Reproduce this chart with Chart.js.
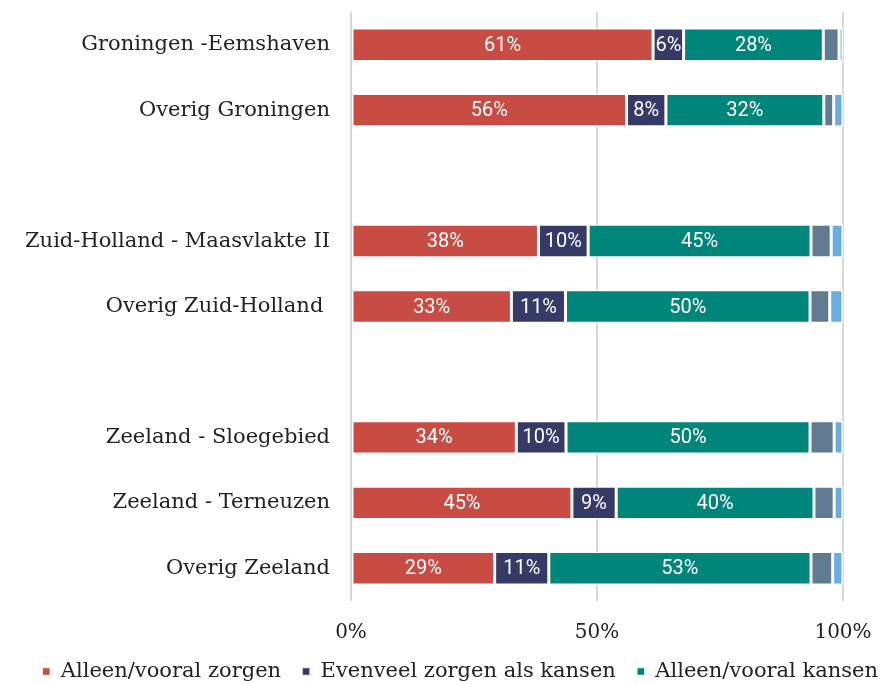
<!DOCTYPE html>
<html>
<head>
<meta charset="utf-8">
<script src="https://cdn.jsdelivr.net/npm/chart.js@4"></script>
<style>
  html, body { margin: 0; padding: 0; background: #fff; }
  #wrap { width: 881px; height: 684px; position: relative; }
</style>
</head>
<body>
<div id="wrap"><canvas id="chart"></canvas></div>
<script>
// categories (empty strings are the spacer rows between provinces)
const regions = [
    'Groningen -Eemshaven', 'Overig Groningen', '',
    'Zuid-Holland - Maasvlakte II', 'Overig Zuid-Holland ', '',
    'Zeeland - Sloegebied', 'Zeeland - Terneuzen', 'Overig Zeeland'
];
const zorgen   = [61.4, 56.0, null, 38.1, 32.6, null, 33.6, 44.9, 29.2];
const evenveel = [ 6.2,  8.0, null, 10.1, 11.0, null, 10.1,  9.0, 11.0];
const kansen   = [28.4, 32.1, null, 45.3, 49.7, null, 49.6, 40.2, 53.3];
const overig1  = [ 3.2,  2.0, null,  4.1,  4.0, null,  4.9,  4.1,  4.4];
const overig2  = [ 0.8,  1.9, null,  2.4,  2.7, null,  1.8,  1.8,  2.1];
const xTicks = [0, 50, 100];

const serif = "'DejaVu Serif', serif";

// draws the % labels inside the first three series
const barLabels = {
    id: 'barLabels',
    afterDatasetsDraw(chart) {
        const ctx = chart.ctx;
        ctx.save();
        ctx.font = "20px Roboto, sans-serif";
        ctx.fillStyle = '#ffffff';
        ctx.textAlign = 'center';
        ctx.textBaseline = 'middle';
        [0, 1, 2].forEach(i => {
            const meta = chart.getDatasetMeta(i);
            meta.data.forEach((bar, j) => {
                const v = chart.data.datasets[i].data[j];
                if (v == null) return;
                const p = bar.getProps(['x', 'y', 'base'], true);
                ctx.fillText(Math.round(v) + '%', (p.x + p.base) / 2, p.y + 1);
            });
        });
        ctx.restore();
    }
};

const bar = (label, data, color) => ({
    label: label,
    data: data,
    backgroundColor: color,
    borderColor: 'rgba(255,255,255,0.85)',
    borderWidth: 1.5,
    borderSkipped: false,
    barPercentage: 0.51,
    categoryPercentage: 1
});

new Chart(document.getElementById('chart'), {
    type: 'bar',
    data: {
        labels: regions,
        datasets: [
            bar('Alleen/vooral zorgen', zorgen, '#c94c44'),
            bar('Evenveel zorgen als kansen', evenveel, '#363a66'),
            bar('Alleen/vooral kansen', kansen, '#00857a'),
            bar('Weet niet', overig1, '#5f7a91'),
            bar('Geen antwoord', overig2, '#6aaee0')
        ]
    },
    options: {
        indexAxis: 'y',
        responsive: true,
        maintainAspectRatio: false,
        animation: false,
        // legend in the reference runs up to the right edge, so let it overflow a bit
        layout: { padding: { top: 12, right: -18, left: 0, bottom: -8 } },
        plugins: {
            legend: {
                position: 'bottom',
                align: 'end',
                labels: {
                    filter: item => item.datasetIndex < 3,
                    font: { family: serif, size: 21 },
                    color: '#222',
                    boxWidth: 8,
                    boxHeight: 8,
                    padding: 21
                }
            },
            tooltip: { enabled: false }
        },
        scales: {
            x: {
                stacked: true,
                min: 0,
                max: 100,
                afterBuildTicks: s => { s.ticks = xTicks.map(v => ({ value: v })); },
                afterFit: s => { s.height = 39; s.paddingLeft = 0; s.paddingRight = 0; },
                grid: { color: '#d9d9d9', lineWidth: 2, drawTicks: false },
                border: { display: false },
                ticks: {
                    padding: 20,
                    font: { family: serif, size: 20 },
                    color: '#222',
                    callback: v => v + '%'
                }
            },
            y: {
                stacked: true,
                afterFit: s => { s.width = 351; s.paddingTop = 0; s.paddingBottom = 0; },
                grid: { display: false },
                border: { display: false },
                ticks: {
                    padding: 13,
                    font: { family: serif, size: 21 },
                    color: '#222'
                }
            },
            // empty axis that only keeps a right margin free
            spacer: {
                type: 'linear',
                position: 'right',
                afterFit: s => { s.width = 56; s.paddingTop = 0; s.paddingBottom = 0; },
                grid: { display: false },
                border: { display: false },
                ticks: { display: false }
            }
        }
    },
    plugins: [barLabels]
});
</script>
</body>
</html>
